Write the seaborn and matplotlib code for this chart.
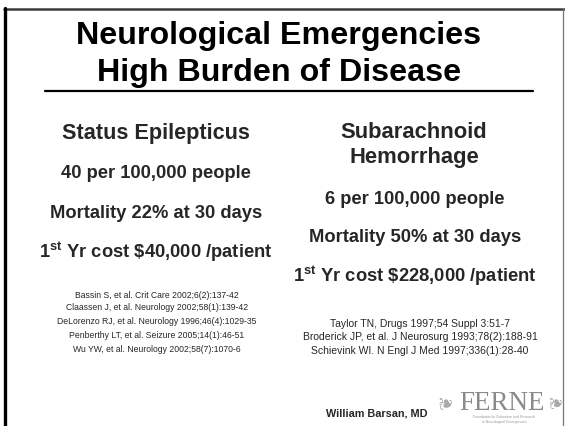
import matplotlib
matplotlib.use("Agg")
import matplotlib.pyplot as plt
import seaborn as sns

# slide content
title_lines = ["Neurological Emergencies", "High Burden of Disease"]
left_head = ["Status Epilepticus"]
left_facts = ["40 per 100,000 people", "Mortality 22% at 30 days",
              r"1$^{\mathbf{st}}$ Yr cost \$40,000 /patient"]
left_refs = ["Bassin S, et al. Crit Care 2002;6(2):137-42",
             "Claassen J, et al. Neurology 2002;58(1):139-42",
             "DeLorenzo RJ, et al. Neurology 1996;46(4):1029-35",
             "Penberthy LT, et al. Seizure 2005;14(1):46-51",
             "Wu YW, et al. Neurology 2002;58(7):1070-6"]
right_head = ["Subarachnoid", "Hemorrhage"]
right_facts = ["6 per 100,000 people", "Mortality 50% at 30 days",
               r"1$^{\mathbf{st}}$ Yr cost \$228,000 /patient"]
right_refs = ["Taylor TN, Drugs 1997;54 Suppl 3:51-7",
              "Broderick JP, et al. J Neurosurg 1993;78(2):188-91",
              "Schievink WI. N Engl J Med 1997;336(1):28-40"]
author = "William Barsan, MD"

sns.set_theme(style="white")
plt.rcParams['font.family'] = ['Liberation Sans', 'DejaVu Sans']
plt.rcParams['mathtext.fontset'] = 'custom'
plt.rcParams['mathtext.rm'] = 'Liberation Sans'
plt.rcParams['mathtext.bf'] = 'Liberation Sans:bold'

fig = plt.figure(figsize=(5.65, 4.26), dpi=100)
ax = fig.add_axes([0, 0, 1, 1])
ax.set_xlim(0, 565)
ax.set_ylim(426, 0)
ax.axis("off")

# frame
ax.plot([4, 564], [9, 9], color="#3a3a3a", lw=1.8)
ax.plot([5, 5], [8, 426], color="black", lw=2.4)
ax.plot([563, 563], [9, 426], color="#777777", lw=0.9)

# title
for txt, y in zip(title_lines, [36, 73]):
    ax.text(279, y, txt, ha="center", va="center", fontsize=23.2, fontweight="bold", color="black")
ax.plot([45, 533], [91, 91], color="black", lw=1.6)

# left column
for txt, y in zip(left_head, [133]):
    ax.text(156, y, txt, ha="center", va="center", fontsize=15.6, fontweight="bold")
for txt, y in zip(left_facts, [174, 213, 252]):
    ax.text(156, y, txt, ha="center", va="center", fontsize=13.2, fontweight="bold")
for txt, y in zip(left_refs, [295, 308, 322, 336, 349]):
    ax.text(157, y, txt, ha="center", va="center", fontsize=6.2)

# right column
for txt, y in zip(right_head, [133, 158]):
    ax.text(414, y, txt, ha="center", va="center", fontsize=15.8, fontweight="bold")
for txt, y in zip(right_facts, [200, 238, 276]):
    ax.text(415, y, txt, ha="center", va="center", fontsize=13.2, fontweight="bold")
for txt, y in zip(right_refs, [324, 337, 351]):
    ax.text(420, y, txt, ha="center", va="center", fontsize=7.45)

ax.text(377, 413, author, ha="center", va="center", fontsize=7.8, fontweight="bold")

# FERNE logo
ax.text(502, 403, "FERNE", ha="center", va="center", fontsize=19.5,
        family="Liberation Serif", color="#8a8a8a")
ax.text(504, 417, "Foundation for Education and Research", ha="center", va="center",
        fontsize=2.5, color="#999999")
ax.text(504, 422, "in Neurological Emergencies", ha="center", va="center",
        fontsize=2.5, color="#999999")
ax.text(447, 401, "\u2766", ha="center", va="center", fontsize=13, color="#aaaaaa",
        family=["DejaVu Sans"], rotation=90)
ax.text(556, 401, "\u2766", ha="center", va="center", fontsize=12, color="#aaaaaa",
        family=["DejaVu Sans"], rotation=90)

fig.savefig("out.png", dpi=100)
